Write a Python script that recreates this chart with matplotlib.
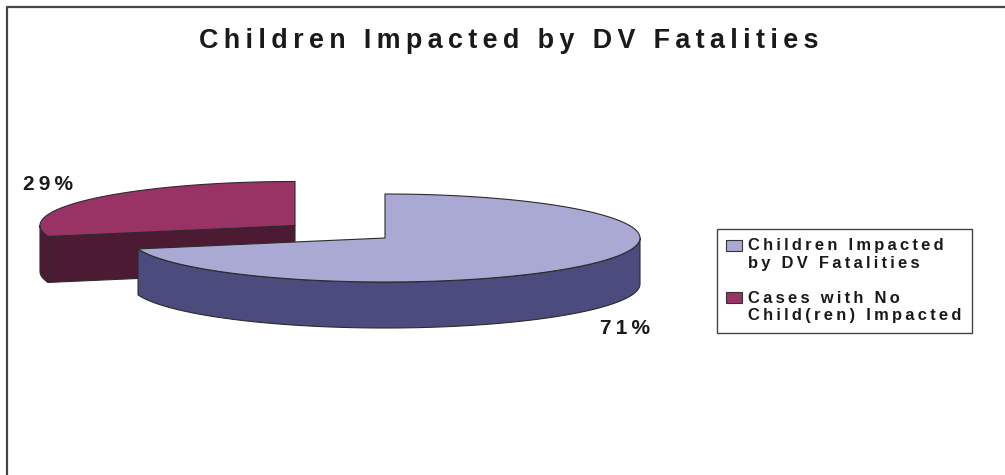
import numpy as np
import matplotlib
matplotlib.use("Agg")
import matplotlib.pyplot as plt
from matplotlib.legend_handler import HandlerPatch
from matplotlib.patches import Patch, Polygon, Rectangle

plt.rcParams['font.family'] = ['Liberation Sans', 'DejaVu Sans']

TITLE = "Children Impacted by DV Fatalities"
LABELS = ["Children Impacted\nby DV Fatalities", "Cases with No\nChild(ren) Impacted"]
SHARES = [71, 29]
TOP_COLORS = ["#A9A9D3", "#993366"]
SIDE_COLORS = ["#4B4B7D", "#4C1A33"]
EDGE = "#2b2b2b"

RX = 255
RY = 44
DEPTH = 46


def spaced(text):
    # no letter spacing in matplotlib, so put thin spaces between the letters
    return "\n".join("\u2009".join(line) for line in text.split("\n"))


def arc(cx, cy, a0, a1):
    t = np.radians(np.linspace(a0, a1, 200))
    return np.column_stack([cx + RX * np.cos(t), cy - RY * np.sin(t)])


def add_poly(ax, pts, color):
    ax.add_patch(Polygon(pts, closed=True, facecolor=color, edgecolor=EDGE, lw=0.8, joinstyle="round"))


def first_line_key(legend, orig_handle, xdescent, ydescent, width, height, fontsize):
    # key sits next to the first line of the label, not the middle
    return Rectangle((-xdescent, -ydescent + 0.56 * fontsize), width, height)


fig = plt.figure(figsize=(10.05, 4.75), dpi=100)
ax = fig.add_axes([0, 0, 1, 1])
ax.set_xlim(0, 1005)
ax.set_ylim(475, 0)
ax.axis("off")

# frame, only left and top show in the crop
ax.plot([7, 7, 1005], [475, 6.5, 6.5], color="#444444", lw=1.6, solid_capstyle="butt")

split = 90 - 360 * SHARES[0] / sum(SHARES)  # first slice runs clockwise from 12 o'clock

# pulled out slice goes behind
cx, cy = 295, 225.5
back = split + 360
tip = arc(cx, cy, back, back)[0]
add_poly(ax, np.vstack([arc(cx, cy, 180, back), arc(cx, cy + DEPTH, back, 180)]), SIDE_COLORS[1])
add_poly(ax, [tuple(tip), (cx, cy), (cx, cy + DEPTH), (tip[0], tip[1] + DEPTH)], SIDE_COLORS[1])
add_poly(ax, np.vstack([[[cx, cy]], arc(cx, cy, 90, back)]), TOP_COLORS[1])

# main slice
cx, cy = 385, 238
add_poly(ax, np.vstack([arc(cx, cy, split, 0), arc(cx, cy + DEPTH, 0, split)]), SIDE_COLORS[0])
add_poly(ax, np.vstack([[[cx, cy]], arc(cx, cy, split, 90)]), TOP_COLORS[0])

ax.text(509, 40.5, spaced(TITLE), ha="center", va="center", fontsize=19.4, fontweight="bold", color="#1a1a1a")
ax.text(48, 185, spaced(f"{SHARES[1]}%"), ha="center", va="center", fontsize=15, fontweight="bold", color="#1a1a1a")
ax.text(624.5, 328, spaced(f"{SHARES[0]}%"), ha="center", va="center", fontsize=15, fontweight="bold", color="#1a1a1a")

handles = [Patch(facecolor=c, edgecolor="#333333", lw=0.8) for c in TOP_COLORS]
leg = ax.legend(handles, [spaced(s) for s in LABELS], loc="upper left",
                bbox_to_anchor=(716.5, 228.5), bbox_transform=ax.transData,
                prop={"size": 11.9, "weight": "bold"}, fancybox=False, framealpha=1,
                edgecolor="#444444", handlelength=0.97, handleheight=0.67, handletextpad=0.36,
                labelspacing=1.2, borderaxespad=0, borderpad=0.6, labelcolor="#1a1a1a",
                handler_map={Patch: HandlerPatch(patch_func=first_line_key)})
leg.get_frame().set_linewidth(1.0)

fig.savefig("out.png", dpi=100, facecolor="white")
